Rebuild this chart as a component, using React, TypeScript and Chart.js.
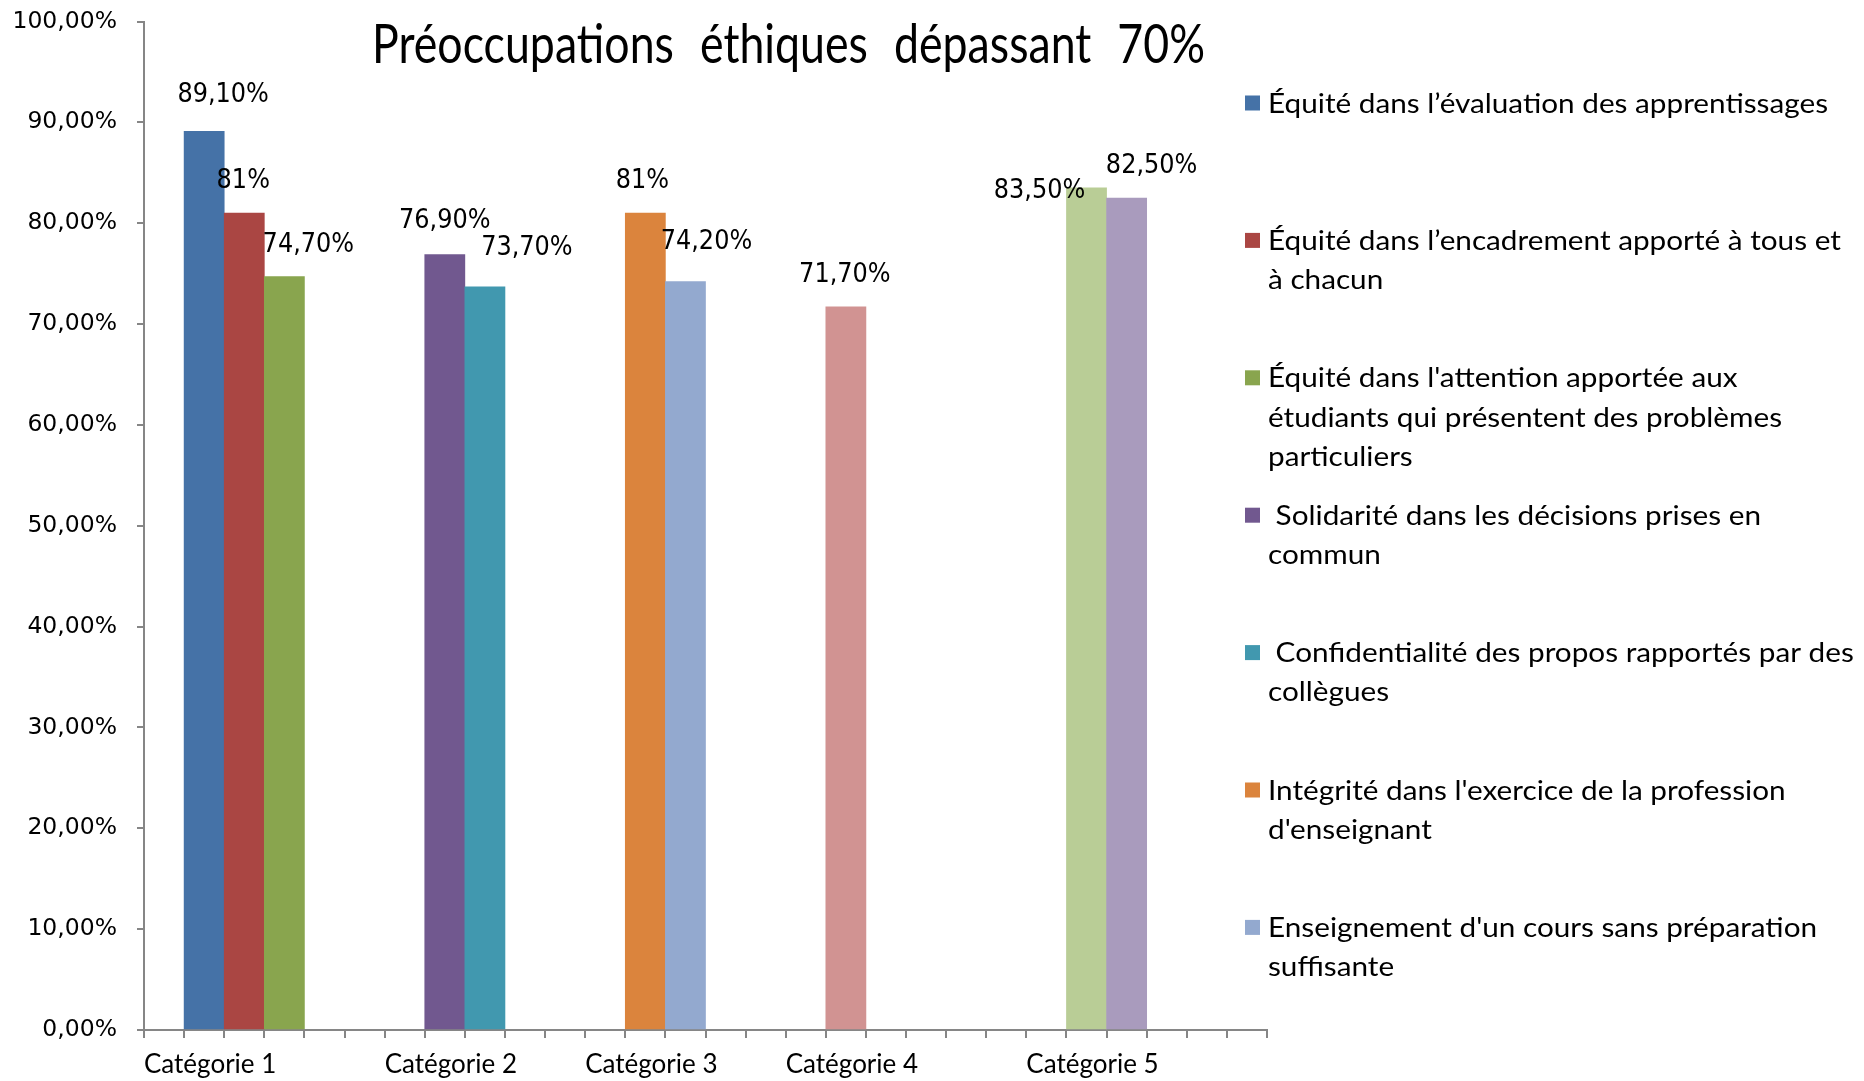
import React, { useEffect, useRef } from "react";
import { Chart, registerables } from "chart.js";

Chart.register(...registerables);

// 28 category slots on the x axis (Excel-style sheet with blank rows)
const slotLabels: string[] = [
  "", "Catégorie 1", "", "", "", "", "",
  "Catégorie 2", "", "", "", "",
  "Catégorie 3", "", "", "", "",
  "Catégorie 4", "", "", "", "", "",
  "Catégorie 5", "", "", "", "",
];

const values: (number | null)[] = [
  null, 89.1, 81, 74.7, null, null, null,
  76.9, 73.7, null, null, null,
  81, 74.2, null, null, null,
  71.7, null, null, null, null, null,
  83.5, 82.5, null, null, null,
];

const barColors: string[] = [
  "#4572A7", "#AA4643", "#89A54E",
  "#71588F", "#4198AF",
  "#DB843D", "#93A9CF",
  "#D19392",
  "#B9CD96", "#A99BBD",
];

const legendNames: string[][] = [
  ["Équité dans l’évaluation des apprentissages"],
  ["Équité dans l’encadrement apporté à tous et", "à chacun"],
  ["Équité dans l'attention apportée aux", "étudiants qui présentent des problèmes", "particuliers"],
  [" Solidarité dans les décisions prises en", "commun"],
  [" Confidentialité des propos rapportés par des", "collègues"],
  ["Intégrité dans l'exercice de la profession", "d'enseignant"],
  ["Enseignement d'un cours sans préparation", "suffisante"],
];

const yTicks: number[] = [0, 10, 20, 30, 40, 50, 60, 70, 80, 90, 100];

const titleText = "Préoccupations éthiques dépassant 70%";

// label placement tweaks (dx, dy of label centre relative to bar top)
const labelShift: [number, number][] = [
  [19, -36], [-1, -32], [24, -31],
  [0, -33], [42, -38],
  [-3, -32], [21, -39],
  [-1, -32],
  [-47, 3], [25, -32],
];

const fmtLabel = (v: number) =>
  Number.isInteger(v) ? `${v}%` : v.toFixed(2).replace(".", ",") + "%";
const fmtTick = (v: number) => v.toFixed(2).replace(".", ",") + "%";

const AXIS = "#868686";
const CAL = "Lato, 'Noto Sans', sans-serif";
const VER = "'DejaVu Sans', Verdana, sans-serif";

export default function App() {
  const ref = useRef<HTMLCanvasElement | null>(null);

  useEffect(() => {
    if (!ref.current) return;
    const slotColors: string[] = [];
    let k = 0;
    values.forEach((v) => slotColors.push(v == null ? "rgba(0,0,0,0)" : barColors[k++]));

    const overlay = {
      id: "overlay",
      afterDatasetsDraw(chart: any) {
        const ctx = chart.ctx as CanvasRenderingContext2D;
        const meta = chart.getDatasetMeta(0);
        ctx.save();
        ctx.fillStyle = "#000";
        ctx.font = `24px ${VER}`;
        ctx.textAlign = "center";
        ctx.textBaseline = "middle";
        let b = 0;
        values.forEach((v, i) => {
          if (v == null) return;
          const el = meta.data[i];
          const [dx, dy] = labelShift[b++] || [0, -32];
          ctx.save();
          ctx.translate(el.x + dx, el.y + dy);
          ctx.scale(1, 1.08);
          ctx.fillText(fmtLabel(v), 0, 0);
          ctx.restore();
        });
        ctx.restore();
      },
      afterDraw(chart: any) {
        const ctx = chart.ctx as CanvasRenderingContext2D;
        ctx.save();
        ctx.fillStyle = "#000";
        // title
        ctx.font = `54px ${CAL}`;
        ctx.textBaseline = "alphabetic";
        ctx.textAlign = "left";
        const words = titleText.split(" ");
        const ws = words.map((w) => ctx.measureText(w).width);
        const tot = ws.reduce((a, c) => a + c, 0);
        const gap = 26;
        const sxT = (833 - gap * (words.length - 1)) / tot;
        let x = 372;
        words.forEach((w, i) => {
          ctx.save();
          ctx.translate(x, 63);
          ctx.scale(sxT, 1);
          ctx.fillText(w, 0, 0);
          ctx.restore();
          x += ws[i] * sxT + gap;
        });
        // legend
        ctx.font = `27px ${CAL}`;
        const sxL = 560 / ctx.measureText(legendNames[0][0]).width;
        legendNames.forEach((lines, i) => {
          const cy = 103 + i * 137.4;
          ctx.fillStyle = barColors[i];
          ctx.fillRect(1245, cy - 7.5, 15, 15);
          ctx.fillStyle = "#000";
          lines.forEach((ln, j) => {
            ctx.save();
            ctx.translate(1268, cy + 9.5 + j * 39.2);
            ctx.scale(sxL, 1);
            ctx.fillText(ln, 0, 0);
            ctx.restore();
          });
        });
        ctx.restore();
      },
    };

    const chart = new Chart(ref.current, {
      type: "bar",
      data: {
        labels: slotLabels,
        datasets: [
          {
            data: values as any,
            backgroundColor: slotColors,
            borderWidth: 0,
            barPercentage: 1,
            categoryPercentage: 1,
          },
        ],
      },
      options: {
        responsive: true,
        maintainAspectRatio: false,
        animation: false,
        layout: { padding: { top: 21.5, right: 597, bottom: 0, left: 0 } },
        plugins: {
          legend: { display: false },
          tooltip: { enabled: false },
          title: { display: false },
        },
        scales: {
          x: {
            offset: true,
            grid: {
              display: true,
              offset: true,
              drawOnChartArea: false,
              drawTicks: true,
              tickLength: 8,
              color: AXIS,
              lineWidth: 2,
            },
            border: { display: true, color: AXIS, width: 2 },
            ticks: {
              autoSkip: false,
              maxRotation: 0,
              minRotation: 0,
              color: "#000",
              font: { family: CAL, size: 26 },
              padding: 11,
              labelOffset: 6,
            },
            afterFit: (s: any) => {
              s.height = 51;
              s.paddingLeft = 0;
              s.paddingRight = 0;
            },
          },
          y: {
            min: 0,
            max: 100,
            afterBuildTicks: (s: any) => {
              s.ticks = yTicks.map((v) => ({ value: v }));
            },
            ticks: {
              callback: (v: any) => fmtTick(Number(v)),
              color: "#000",
              font: { family: VER, size: 23.5 },
              padding: 20,
            },
            grid: {
              drawOnChartArea: false,
              drawTicks: true,
              tickLength: 7,
              color: AXIS,
              lineWidth: 2,
            },
            border: { display: true, color: AXIS, width: 2 },
            afterFit: (s: any) => {
              s.width = 144;
              s.paddingTop = 0;
              s.paddingBottom = 0;
            },
          },
        },
      },
      plugins: [overlay],
    });
    return () => chart.destroy();
  }, []);

  return (
    <div
      style={{
        position: "fixed",
        left: 0,
        top: 0,
        width: 1864,
        height: 1081,
        background: "#fff",
      }}
    >
      <canvas ref={ref} />
    </div>
  );
}
